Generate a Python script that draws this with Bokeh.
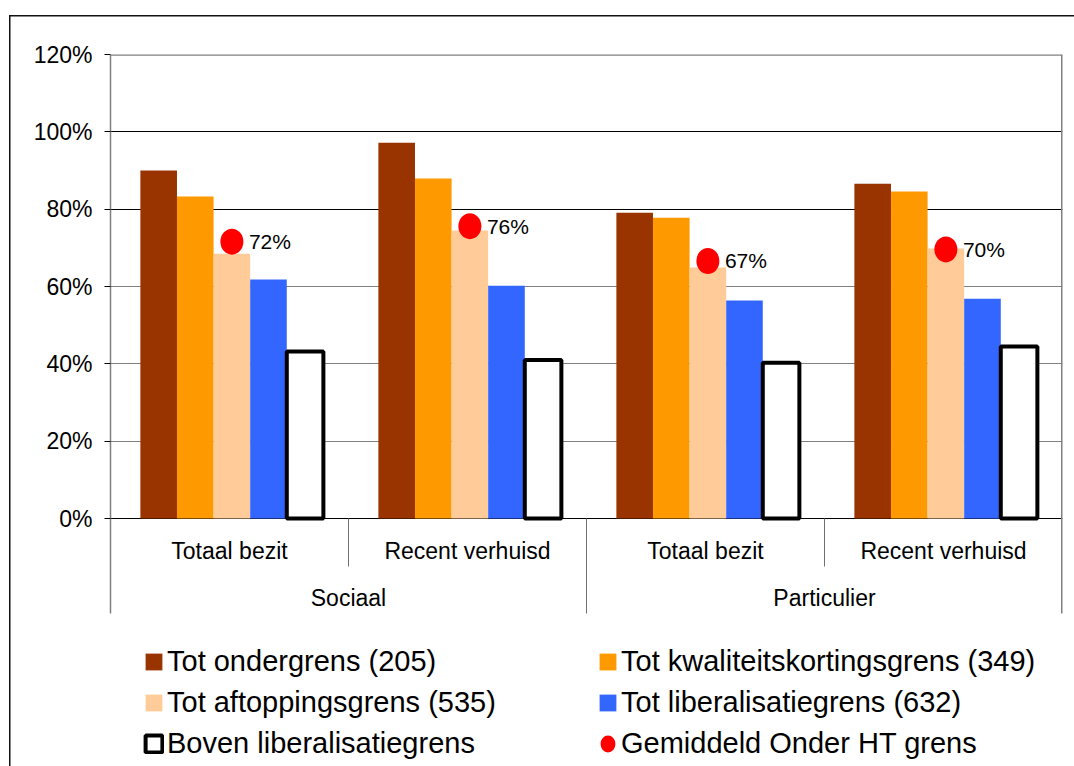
from bokeh.plotting import figure
from bokeh.layouts import column
from bokeh.models import (FactorRange, Range1d, FixedTicker, PrintfTickFormatter,
                          Grid, Span, Legend, LegendItem, ColumnDataSource)
from bokeh.transform import dodge
from bokeh.core.properties import value
from bokeh.embed import file_html
from bokeh.resources import INLINE

# ---------------- data ----------------
groups = ["Sociaal", "Sociaal", "Particulier", "Particulier"]
subgroups = ["Totaal bezit", "Recent verhuisd", "Totaal bezit", "Recent verhuisd"]
tot_ondergrens = [90.0, 97.2, 79.1, 86.6]
tot_kwaliteitskortingsgrens = [83.3, 87.9, 77.8, 84.6]
tot_aftoppingsgrens = [68.5, 74.5, 64.9, 69.8]
tot_liberalisatiegrens = [61.8, 60.2, 56.4, 56.8]
boven_liberalisatiegrens = [43.2, 41.0, 40.3, 44.5]
gemiddeld_onder_ht = [71.6, 75.6, 66.6, 69.6]
y_ticks = [0, 20, 40, 60, 80, 100, 120]
series_names = ["Tot ondergrens (205)", "Tot kwaliteitskortingsgrens (349)",
                "Tot aftoppingsgrens (535)", "Tot liberalisatiegrens (632)",
                "Boven liberalisatiegrens", "Gemiddeld Onder HT grens"]
bar_colors = ["#993300", "#FF9900", "#FFCC99", "#3366FF"]

FONT = value("Liberation Sans")

# ---------------- layout constants ----------------
W, H = 1074, 766
TOP = 54
LEFT = 110
RIGHT_EDGE = 1062
PX_PER = (518 - 54) / 120.0
y_start = 120 - (H - TOP) / PX_PER
short_depth = 48 / PX_PER
long_depth = 95 / PX_PER

factors = list(zip(groups, subgroups))
x_range = FactorRange(factors=factors, factor_padding=0, group_padding=0,
                      range_padding=0)

p = figure(width=W, height=H, x_range=x_range, y_range=Range1d(y_start, 120),
           output_backend="svg", toolbar_location=None, x_axis_location=None,
           min_border_left=LEFT, min_border_right=W - RIGHT_EDGE, min_border_top=TOP,
           min_border_bottom=0, outline_line_color=None,
           border_fill_color=None, background_fill_color=None)

src = ColumnDataSource(dict(
    x=factors, sub=subgroups,
    s0=tot_ondergrens, s1=tot_kwaliteitskortingsgrens, s2=tot_aftoppingsgrens,
    s3=tot_liberalisatiegrens, s4=boven_liberalisatiegrens,
    gem=gemiddeld_onder_ht,
    gem_label=[f"{v:.0f}%" for v in gemiddeld_onder_ht],
))

# ---------------- grids ----------------
p.xgrid.visible = False
p.ygrid.ticker = FixedTicker(ticks=[20, 40, 60])
p.ygrid.grid_line_color = "#808080"
p.ygrid.grid_line_width = 1
black_grid = Grid(dimension=1, ticker=FixedTicker(ticks=[0, 80, 100]),
                  grid_line_color="black", grid_line_width=1.2)
p.add_layout(black_grid)
p.add_layout(Span(location=120, dimension="width", line_color="#808080", line_width=2.5))

# ---------------- bars ----------------
bar_w = 36.6 / 238.0
offsets = [(i - 2) * bar_w + 0.01 for i in range(5)]
renderers = []
for i, col in enumerate(["s0", "s1", "s2", "s3"]):
    r = p.vbar(x=dodge("x", offsets[i], range=p.x_range), top=col, bottom=0,
               width=bar_w, source=src, fill_color=bar_colors[i], line_color=None)
    renderers.append(r)
r4 = p.vbar(x=dodge("x", offsets[4], range=p.x_range), top="s4", bottom=0,
            width=bar_w, source=src, fill_color="white", line_color="black",
            line_width=4)
renderers.append(r4)

r_dot = p.ellipse(x=dodge("x", offsets[2], range=p.x_range), y="gem",
                  width=23, height=26, width_units="screen", height_units="screen",
                  fill_color="#FF0000", line_color=None, source=src)
renderers.append(r_dot)
p.text(x=dodge("x", offsets[2], range=p.x_range), y="gem", text="gem_label",
       x_offset=17, text_baseline="middle", text_align="left",
       text_font=FONT, text_font_size="21px", text_color="black", source=src)

# ---------------- category table below the axis ----------------
p.text(x="x", y=0, text="sub", y_offset=32, text_align="center",
       text_baseline="middle", text_font=FONT, text_font_size="23px",
       text_color="black", source=src)
group_names = list(dict.fromkeys(groups))
gsrc = ColumnDataSource(dict(x=group_names))
p.text(x="x", y=0, text="x", y_offset=79, text_align="center",
       text_baseline="middle", text_font=FONT, text_font_size="23px",
       text_color="black", source=gsrc)

short_sep = [f for k, f in enumerate(factors[:-1]) if groups[k] == groups[k + 1]]
long_sep = [f for k, f in enumerate(factors[:-1]) if groups[k] != groups[k + 1]]
ssrc = ColumnDataSource(dict(x=short_sep))
lsrc = ColumnDataSource(dict(x=long_sep))
p.segment(x0=dodge("x", 0.5, range=p.x_range), y0=0,
          x1=dodge("x", 0.5, range=p.x_range), y1=-short_depth,
          line_color="#707070", line_width=1, source=ssrc)
p.segment(x0=dodge("x", 0.5, range=p.x_range), y0=0,
          x1=dodge("x", 0.5, range=p.x_range), y1=-long_depth,
          line_color="#707070", line_width=1, source=lsrc)
esrc = ColumnDataSource(dict(x=[factors[-1]]))
p.segment(x0=dodge("x", 0.5, range=p.x_range), y0=120,
          x1=dodge("x", 0.5, range=p.x_range), y1=-long_depth,
          line_color="#808080", line_width=3, source=esrc)

# ---------------- y axis ----------------
yax = p.yaxis[0]
yax.ticker = FixedTicker(ticks=y_ticks)
yax.formatter = PrintfTickFormatter(format="%d%%")
yax.major_label_text_font = "Liberation Sans"
yax.major_label_text_font_size = "23px"
yax.major_label_text_color = "black"
yax.major_tick_out = 6
yax.major_tick_in = 0
yax.major_tick_line_color = "black"
yax.minor_tick_line_color = None
yax.axis_line_color = "#808080"
yax.axis_line_width = 1.5
yax.major_label_standoff = 12
yax.bounds = (-long_depth, 120)

# ---------------- legends ----------------
def make_legend(idx, loc):
    items = [LegendItem(label=series_names[k], renderers=[renderers[k]]) for k in idx]
    return Legend(items=items, location=loc, orientation="vertical",
                  label_text_font="Liberation Sans", label_text_font_size="29px",
                  label_text_color="black", glyph_width=21, glyph_height=21,
                  label_height=21, label_standoff=3, spacing=8, padding=0,
                  margin=0, border_line_color=None, background_fill_alpha=0)

p.add_layout(make_legend([0, 2, 4], (33, 6)))
p.add_layout(make_legend([1, 3, 5], (487, 6)))

# outer chart-area frame (only its left and top edges fall inside the picture),
# painted behind the transparent figure border by a wrapping layout
frame_svg = ("data:image/svg+xml;utf8,<svg xmlns='http://www.w3.org/2000/svg' "
             f"width='{W}' height='{H}'><path d='M9.75 {H} V15.75 H{W}' fill='none' "
             "stroke='%23111' stroke-width='1.5'/></svg>")
page = column(p, styles={"background": f'url("{frame_svg}") no-repeat 0 0'})

open("out.html", "w").write(file_html(page, INLINE))
